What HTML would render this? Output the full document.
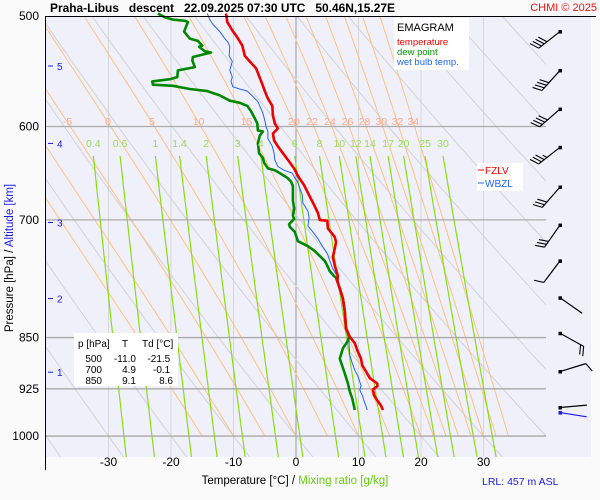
<!DOCTYPE html>
<html><head><meta charset="utf-8"><style>
html,body{margin:0;padding:0;background:#fafafa;}
svg{display:block;font-family:"Liberation Sans",sans-serif;}
</style></head><body>
<svg id="chart" width="600" height="500" viewBox="0 0 600 500" xmlns="http://www.w3.org/2000/svg">
<rect x="0" y="0" width="600" height="500" fill="#fafafa"/>
<rect x="46" y="16" width="545" height="441" fill="#f0f0fb"/>
<defs><clipPath id="clip"><rect x="46" y="16" width="500" height="441"/></clipPath></defs>
<g id="grid" clip-path="url(#clip)"></g>
<g id="series"></g>
<g id="labels"></g>
<g id="winds"></g>
<line x1="45.5" y1="16" x2="45.5" y2="470" stroke="#000" stroke-width="1"/>
<line x1="45" y1="16.5" x2="596" y2="16.5" stroke="#000" stroke-width="1"/>
<text x="50" y="12" font-size="12" font-weight="bold" fill="#000" textLength="345" lengthAdjust="spacingAndGlyphs" xml:space="preserve">Praha-Libus   descent   22.09.2025 07:30 UTC   50.46N,15.27E</text>
<text x="597" y="11" font-size="11" fill="#ee1111" text-anchor="end">CHMI © 2025</text>
<g>
<rect x="394" y="18" width="75" height="52" fill="#fff"/>
<text x="397" y="31" font-size="11" fill="#000">EMAGRAM</text>
<text x="397" y="45" font-size="9.5" fill="#ee0000">temperature</text>
<text x="397" y="55" font-size="9.5" fill="#009900">dew point</text>
<text x="397" y="65" font-size="9.5" fill="#2266ee">wet bulb temp.</text>
</g>
<g>
<rect x="477" y="163" width="46" height="28" fill="#fff"/>
<line x1="478" y1="170" x2="484" y2="170" stroke="#ee0000"/>
<text x="485" y="174" font-size="10" fill="#ee0000">FZLV</text>
<line x1="478" y1="183" x2="484" y2="183" stroke="#2266ee"/>
<text x="485" y="187" font-size="10" fill="#2266ee">WBZL</text>
</g>
<g>
<rect x="74" y="333" width="104" height="53" fill="#fff"/>
<text font-size="10" fill="#000">
<tspan x="78" y="347">p [hPa]</tspan><tspan x="122" y="347">T</tspan><tspan x="142" y="347">Td [°C]</tspan>
<tspan x="102" y="362" text-anchor="end">500</tspan><tspan x="136" y="362" text-anchor="end">-11.0</tspan><tspan x="173" y="362" text-anchor="end">-21.5</tspan>
<tspan x="102" y="373" text-anchor="end">700</tspan><tspan x="136" y="373" text-anchor="end">4.9</tspan><tspan x="173" y="373" text-anchor="end">-0.1</tspan>
<tspan x="102" y="384" text-anchor="end">850</tspan><tspan x="136" y="384" text-anchor="end">9.1</tspan><tspan x="173" y="384" text-anchor="end">8.6</tspan>
</text>
</g>
<text transform="translate(13,258) rotate(-90)" font-size="11.5" text-anchor="middle"><tspan fill="#000">Pressure [hPa]  /  </tspan><tspan fill="#1a1aee">Altitude [km]</tspan></text>
<text x="295" y="484" font-size="11.5" text-anchor="middle"><tspan fill="#000">Temperature [°C]  /  </tspan><tspan fill="#66cc11">Mixing ratio [g/kg]</tspan></text>
<text x="482" y="485" font-size="10.5" fill="#1a1aee">LRL: 457 m ASL</text>
</svg>
<script>
// ---- data ----
const tempP=[498,505,512,518,525,534,539,545,552,561,566,573,580,589,597,602,607,614,620,627,634,643,651,661,672,683,692,700,701,710,720,726,734,744,755,768,774,784,797,814,837,849,858,868,880,890,899,909,917,921,926,935,943,951,958];
const tempT=[-11.2,-11.0,-10.2,-9.4,-8.6,-8.2,-7.4,-6.4,-5.9,-5.3,-5.0,-4.5,-3.8,-3.7,-3.4,-2.9,-3.7,-3.5,-2.9,-2.1,-1.3,-0.3,0.3,1.3,2.1,2.9,3.5,3.8,5.0,5.1,6.2,6.4,6.2,5.9,6.2,6.7,6.6,7.0,7.5,7.8,8.0,8.6,9.4,9.8,10.4,10.6,11.2,11.8,13.0,13.0,12.3,12.5,13.0,13.6,13.9];
const dewP=[498,501,503,504,505,513,519,521,525,526,530,531,535,538,544,547,553,555,557,560,561,564,566,570,575,577,580,585,592,597,604,605,609,617,627,632,637,643,645,648,653,657,662,672,678,687,695,699,705,708,714,725,728,731,737,743,749,755,762,768,770,784,797,814,837,849,856,865,880,891,902,917,929,940,958];
const dewT=[-22.1,-21.0,-19.7,-17.8,-17.3,-17.9,-17.0,-15.7,-15.0,-15.5,-14.6,-13.6,-16.5,-16.6,-16.2,-18.9,-19.0,-20.2,-23.0,-22.9,-19.7,-17.0,-14.2,-12.2,-10.6,-9.0,-7.8,-7.2,-6.6,-6.2,-6.1,-5.3,-5.8,-6.1,-5.9,-5.3,-5.1,-4.5,-3.4,-2.6,-1.4,-0.8,-0.5,-0.5,-0.5,-0.3,-0.5,-0.3,-1.1,-1.0,-0.2,0.3,1.1,1.9,3.0,3.8,4.6,5.0,5.4,6.1,6.4,7.0,7.5,7.8,8.0,8.5,8.2,7.5,7.0,7.4,7.8,8.3,8.6,9.0,9.4];
const wetP=[498,503,507,513,519,522,526,534,539,547,553,557,562,564,566,571,576,580,587,594,600,605,612,620,627,634,641,645,648,653,657,662,672,681,684,690,697,707,714,722,732,740,749,759,768,784,797,814,837,849,861,875,887,897,906,920,927,935,944,952,958];
const wetT=[-14.2,-13.8,-13.3,-12.2,-11.4,-10.9,-10.6,-10.7,-10.2,-10.6,-10.2,-10.4,-10.1,-9.0,-7.8,-6.9,-6.1,-5.8,-5.3,-5.0,-4.8,-4.5,-4.5,-3.8,-3.5,-3.4,-2.9,-1.9,-0.6,-0.2,0.2,0.5,1.0,1.1,1.4,1.9,2.1,1.9,2.7,3.5,4.3,5.0,5.4,5.9,6.6,7.0,7.5,7.8,8.0,8.5,8.5,8.6,9.0,9.4,9.9,10.4,10.2,10.6,10.9,11.2,11.4];
const windP=[513,547,583,621,663,706,749,796,844,899,954];
const windDir=[232,222,229,232,221,215,217,125,119,73,85];
const windSpd=[40,40,40,35,30,30,10,2,20,10,2];
const pressureTicks=[500,600,700,850,925,1000];
const tempTicks=[-30,-20,-10,0,10,20,30];
const mixRatios=[0.4,0.6,1,1.4,2,3,4,6,8,10,12,14,17,20,25,30];
const thetaW=[-15,-10,-5,0,5,10,15,20,22,24,26,28,30,32,34];
const thetaWLabels=[-5,0,5,10,15,20,22,24,26,28,30,32,34];
const thetaDry=[-40,-30,-20,-10,0,10,20,30,40,50,60,70,80,90,100,110,120];
const altKm=[1,2,3,4,5];
const altY_P=[900,797,703,617,543];

// ---- axes ----
const NS='http://www.w3.org/2000/svg';
const yP=p=>16+606*Math.log(p/500);
const xT=t=>296+6.25*t;
const pBot=500*Math.exp((457-16)/606);
function mk(tag,attrs,parent){const e=document.createElementNS(NS,tag);for(const k in attrs)e.setAttribute(k,attrs[k]);parent.appendChild(e);return e;}
const grid=document.getElementById('grid'),ser=document.getElementById('series'),lab=document.getElementById('labels'),wg=document.getElementById('winds');
function poly(pts,stroke,w,parent,name){const e=mk('polyline',{points:pts.map(q=>q[0].toFixed(1)+','+q[1].toFixed(1)).join(' '),fill:'none',stroke:stroke,'stroke-width':w,'stroke-linejoin':'round'},parent);


return e;}
function txt(x,y,s,fill,size,anchor,parent,name){const e=mk('text',{x:x,y:y,fill:fill,'font-size':size,'text-anchor':anchor},parent);e.textContent=s;


return e;}

tempTicks.forEach(t=>{const l=mk('line',{x1:xT(t),y1:16,x2:xT(t),y2:457,stroke:t===0?'#999':'#d6d6d6','stroke-width':1},grid);

});
thetaDry.forEach(th=>{const pts=[];for(let p=480;p<=pBot+5;p+=5){pts.push([xT((th+273.15)*Math.pow(p/1000,0.2857)-273.15),yP(p)]);}poly(pts,'#d2d2d2',1,grid,'dry-adiabat');});
function moistLapse(p,T){const Tk=T+273.15;const es=6.112*Math.exp(17.67*T/(T+243.5));const rs=0.622*es/(p-es);const Rd=287,Lv=2.5e6,cp=1005,eps=0.622;
return (1/p)*(Rd*Tk+Lv*rs)/(cp+Lv*Lv*rs*eps/(Rd*Tk*Tk));}
thetaW.forEach(tw=>{let T=tw;const pts=[[xT(T),yP(1000)]];let lp=T;
for(let p=1000;p>480;p-=2){T-=2*moistLapse(p,T);pts.push([xT(T),yP(p-2)]);if(Math.abs(p-2-596)<1)lp=T;}
poly(pts,'#ffc080',1,grid,'moist-adiabat');
if(thetaWLabels.includes(tw))txt(xT(lp),125,String(tw),'#ffaa88',10.5,'middle',lab,'moist-adiabat-label');});
function tdOf(w,p){const e=w*p/(622+w);const l=Math.log(e/6.112);return 243.5*l/(17.67-l);}
const pTop=500*Math.exp((156-16)/606);
mixRatios.forEach(w=>{const pts=[];for(let p=pTop;p<=pBot+5;p+=5)pts.push([xT(tdOf(w,p)),yP(p)]);poly(pts,'#88dd11',1.2,grid,'mixing-ratio-line');
txt(xT(tdOf(w,pTop)),147,String(w),'#99dd55',10.5,'middle',lab,'mixing-ratio-label');});
pressureTicks.forEach(p=>{if(p!==500){const l=mk('line',{x1:46,y1:yP(p),x2:546,y2:yP(p),stroke:'#aaa','stroke-width':1.3},grid);

}
txt(39,yP(p)+4,String(p),'#000',12,'end',lab,'y-tick-label');});
tempTicks.forEach(t=>txt(xT(t),466,String(t),'#000',12,'middle',lab,'x-tick-label'));
altKm.forEach((k,i)=>{const y=yP(altY_P[i]);const l=mk('line',{x1:48,y1:y,x2:53,y2:y,stroke:'#1a1aee'},lab);


txt(57,y+4,String(k),'#1a1aee',10,'start',lab,'altitude-label');});
poly(wetP.map((p,i)=>[xT(wetT[i]),yP(p)]),'#2266ee',1,ser,'wet-bulb-line');
poly(dewP.map((p,i)=>[xT(dewT[i]),yP(p)]),'#008800',2.6,ser,'dew-point-line');
poly(tempP.map((p,i)=>[xT(tempT[i]),yP(p)]),'#ee0000',2.6,ser,'temperature-line');
function barb(p,d,s,col,g){const x=560,y=yP(p),L=27;const r=d*Math.PI/180;const ux=Math.sin(r),uy=-Math.cos(r);
const ex=x+L*ux,ey=y+L*uy;const nx=-uy,ny=ux;
const gg=mk('g',{},g);


mk('line',{x1:x,y1:y,x2:ex,y2:ey,stroke:col,'stroke-width':1.2},gg);
mk('rect',{x:x-1.5,y:y-1.5,width:3.5,height:3.5,fill:col},gg);
let full=Math.floor(s/10),half=(s%10)>=5?1:0;let k=0;
for(let i=0;i<full;i++,k++){const bx=ex-k*3.5*ux,by=ey-k*3.5*uy;mk('line',{x1:bx,y1:by,x2:bx+10*(nx*0.9+ux*0.4),y2:by+10*(ny*0.9+uy*0.4),stroke:col,'stroke-width':1.1},gg);}
if(half){const bx=ex-k*3.5*ux,by=ey-k*3.5*uy;mk('line',{x1:bx,y1:by,x2:bx+5*(nx*0.9+ux*0.4),y2:by+5*(ny*0.9+uy*0.4),stroke:col,'stroke-width':1.1},gg);}}
windP.forEach((p,i)=>barb(p,windDir[i],windSpd[i],'#000',wg));
barb(962,99,2,'#1a1aee',wg);
</script>
</body></html>
